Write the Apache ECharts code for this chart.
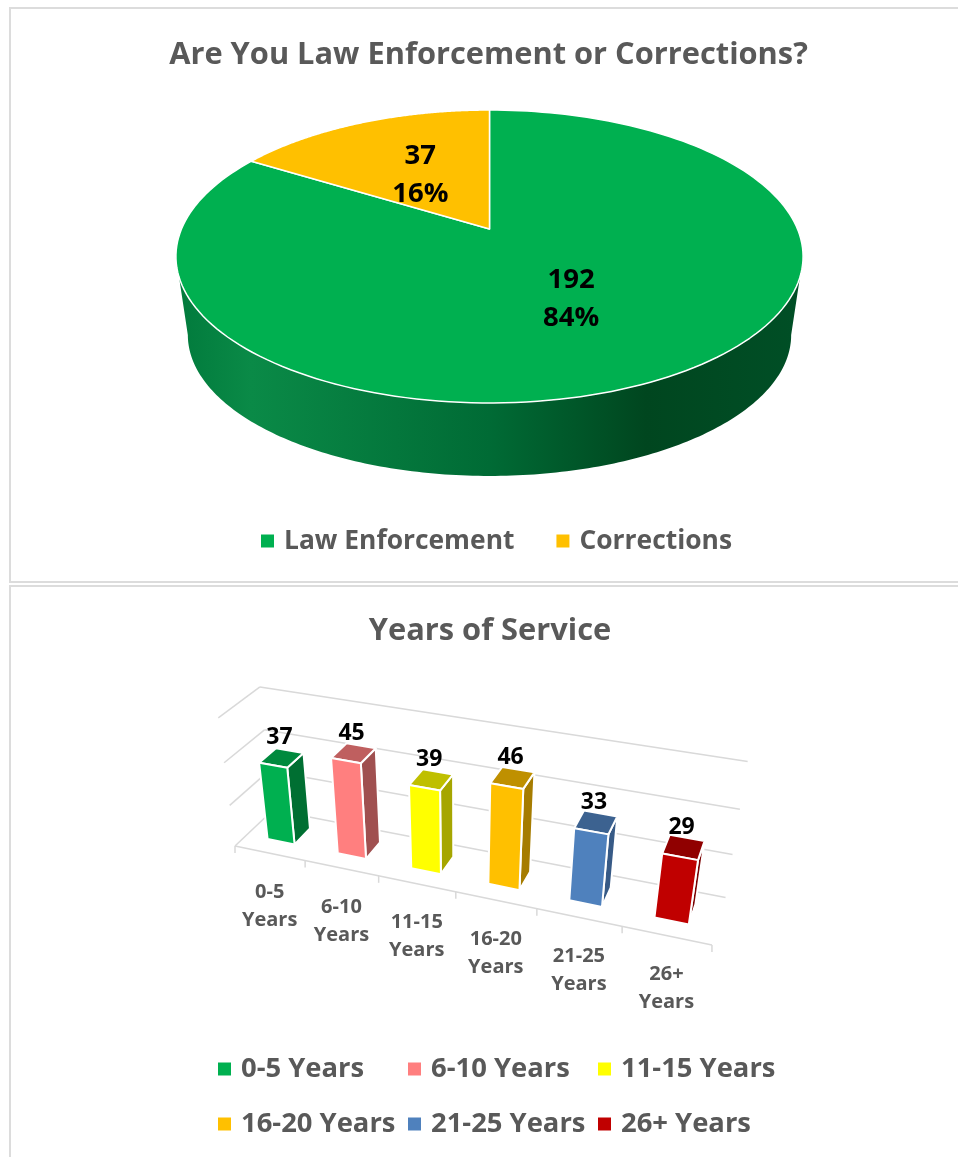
<!DOCTYPE html>
<html>
<head>
<meta charset="utf-8">
<title>Law Enforcement or Corrections / Years of Service</title>
<script src="https://cdn.jsdelivr.net/npm/echarts@6/dist/echarts.min.js"></script>
<style>
  html, body { margin: 0; padding: 0; background: #fff; }
  #chart { width: 958px; height: 1157px; }
</style>
</head>
<body>
<div id="chart"></div>
<script>
var pieNames = ['Law Enforcement', 'Corrections'];
var pieValues = [192, 37];

var serviceNames = ['0-5 Years', '6-10 Years', '11-15 Years', '16-20 Years', '21-25 Years', '26+ Years'];
var serviceValues = [37, 45, 39, 46, 33, 29];
var valueTicks = [0, 20, 40, 60];

var pieColors = ['#00B050', '#FFC000'];
var faceColors = ['#00B050', '#FF7F7F', '#FFFF00', '#FFC000', '#4F81BD', '#C00000'];
var topColors = ['#008A3E', '#BF5F5F', '#BFBF00', '#BF9000', '#3C6290', '#900000'];
var sideColors = ['#006F32', '#A05050', '#A6A600', '#A67C00', '#375A86', '#7A0000'];

var FONT = '"Open Sans", sans-serif';
var GREY = '#595959';

// tilted disc: unit circle -> screen
var DISC = { k: 0.1877, sx: 308, sy: 141.3, wallScale: 0.962, wallDrop: 79.6 };
// box of the column chart: x, y, z in 0..1 -> screen (projective)
var BOX = {
  o: [235, 846], a: [378.7, -31.4], b: [-32, -178.3], c: [53.8, 11],
  p: -0.138, q: -0.07, r: 0.058
};

function project(x, y, z) {
  var w = 1 + BOX.p * x + BOX.q * y + BOX.r * z;
  return [
    (BOX.o[0] + BOX.a[0] * x + BOX.b[0] * y + BOX.c[0] * z) / w,
    (BOX.o[1] + BOX.a[1] * x + BOX.b[1] * y + BOX.c[1] * z) / w
  ];
}

function discPoint(cs, pt, scale, drop) {
  var u = (pt[0] - cs.cx) / cs.r, v = (cs.cy - pt[1]) / cs.r;
  var w = 1 + DISC.k * v;
  return [cs.cx + scale * DISC.sx * u / w, cs.cy + drop - scale * DISC.sy * v / w];
}

function renderSlice(index) {
  return function (params, api) {
    var cs = params.coordSys, from = api.value(0), to = api.value(1), total = api.value(2);
    var steps = 180, top = [], i;
    top.push(discPoint(cs, api.coord([0, from]), 1, 0));
    for (i = 0; i <= steps; i++) {
      top.push(discPoint(cs, api.coord([1, from + (to - from) * i / steps]), 1, 0));
    }
    var children = [];

    // the wall shows only between the two widest points of the disc
    var wallFrom = Math.max(from, total * 0.28), wallTo = Math.min(to, total * 0.72);
    if (wallTo > wallFrom) {
      var upper = [], lower = [];
      for (i = 0; i <= steps; i++) {
        var pt = api.coord([1, wallFrom + (wallTo - wallFrom) * i / steps]);
        upper.push(discPoint(cs, pt, 1, 0));
        lower.unshift(discPoint(cs, pt, DISC.wallScale, DISC.wallDrop));
      }
      children.push({
        type: 'polygon',
        shape: { points: upper.concat(lower) },
        style: {
          fill: new echarts.graphic.LinearGradient(0, 0, 1, 0, [
            { offset: 0, color: '#017A3C' },
            { offset: 0.12, color: '#0A8A47' },
            { offset: 0.5, color: '#006B35' },
            { offset: 0.75, color: '#00461F' },
            { offset: 1, color: '#004F26' }
          ])
        }
      });
    }

    children.push({
      type: 'polygon',
      shape: { points: top },
      style: { fill: pieColors[index], stroke: '#fff', lineWidth: 1.5, lineJoin: 'round' }
    });

    var labelAt = discPoint(cs, api.coord([0.5, (from + to) / 2]), 1, 0);
    children.push({
      type: 'text',
      z2: 10,
      style: {
        text: pieValues[index] + '\n' + Math.round(pieValues[index] / total * 100) + '%',
        x: labelAt[0], y: labelAt[1] + 3,
        align: 'center', verticalAlign: 'middle',
        fill: '#000', font: 'bold 27.5px ' + FONT, lineHeight: 38
      }
    });
    return { type: 'group', children: children };
  };
}

function lineEl(p0, p1) {
  return {
    type: 'line',
    shape: { x1: p0[0], y1: p0[1], x2: p1[0], y2: p1[1] },
    style: { stroke: '#D9D9D9', lineWidth: 1.5 }
  };
}

function renderFrame(params, api) {
  var cs = params.coordSys;
  var y = (cs.y + cs.height - api.coord([0, api.value(1)])[1]) / cs.height;
  var children = [
    lineEl(project(0, y, 0), project(0, y, 1)),
    lineEl(project(0, y, 1), project(1, y, 1))
  ];
  if (api.value(1) === valueTicks[0]) {
    children.push(lineEl(project(0, 0, 0), project(1, 0, 0)));
    var n = serviceNames.length;
    for (var i = 0; i <= n; i++) {
      var foot = project(i / n, 0, 0);
      children.push(lineEl(foot, [foot[0], foot[1] + 7]));
    }
  }
  return { type: 'group', children: children };
}

function renderColumn(params, api) {
  var cs = params.coordSys, s = params.seriesIndex - firstColumnSeries;
  var pt = api.coord([api.value(0), api.value(1)]);
  var band = api.size([1, 0])[0] / cs.width;
  var xc = (pt[0] - cs.x) / cs.width;
  var y = (cs.y + cs.height - pt[1]) / cs.height;
  var x0 = xc - band * 0.195, x1 = xc + band * 0.195, z0 = 0.3, z1 = 0.73;
  var edge = { stroke: '#fff', lineWidth: 2, lineJoin: 'round' };

  function face(points, fill) {
    return { type: 'polygon', shape: { points: points }, style: Object.assign({ fill: fill }, edge) };
  }

  var topMid = project(xc, y, (z0 + z1) / 2);
  var foot = project(xc, 0, 0);
  return {
    type: 'group',
    children: [
      face([project(x1, 0, z0), project(x1, 0, z1), project(x1, y, z1), project(x1, y, z0)], sideColors[s]),
      face([project(x0, y, z0), project(x1, y, z0), project(x1, y, z1), project(x0, y, z1)], topColors[s]),
      face([project(x0, 0, z0), project(x1, 0, z0), project(x1, y, z0), project(x0, y, z0)], faceColors[s]),
      {
        type: 'text',
        style: {
          text: String(api.value(1)), x: topMid[0] - 2, y: topMid[1] - 20,
          align: 'center', verticalAlign: 'middle', fill: '#000', font: 'bold 23px ' + FONT
        }
      },
      {
        type: 'text',
        style: {
          text: serviceNames[s].replace(' ', '\n'), x: foot[0], y: foot[1] + 53,
          align: 'center', verticalAlign: 'middle', fill: GREY, font: 'bold 20px ' + FONT, lineHeight: 28
        }
      }
    ]
  };
}

function legendBase(extra, fontSize) {
  return Object.assign({
    orient: 'vertical',
    icon: 'rect',
    itemWidth: 13,
    itemHeight: 13,
    itemGap: 19,
    selectedMode: false,
    padding: 0,
    textStyle: { color: GREY, fontFamily: FONT, fontWeight: 'bold', fontSize: fontSize, lineHeight: 36, padding: [0, 0, 0, 5] }
  }, extra);
}

var pieTotal = pieValues.reduce(function (a, b) { return a + b; }, 0);
var series = [];
var running = 0;
pieNames.forEach(function (name, i) {
  series.push({
    type: 'custom',
    name: name,
    coordinateSystem: 'polar',
    itemStyle: { color: pieColors[i] },
    renderItem: renderSlice(i),
    data: [[running, running + pieValues[i], pieTotal]],
    z: 2 + i
  });
  running += pieValues[i];
});
series.push({
  type: 'custom',
  name: 'frame',
  coordinateSystem: 'cartesian2d',
  renderItem: renderFrame,
  data: valueTicks.map(function (t) { return [0, t]; }),
  encode: { x: 0, y: 1 },
  z: 1
});
var firstColumnSeries = series.length;
serviceNames.forEach(function (name, i) {
  series.push({
    type: 'custom',
    name: name,
    coordinateSystem: 'cartesian2d',
    itemStyle: { color: faceColors[i] },
    renderItem: renderColumn,
    data: [[i, serviceValues[i]]],
    encode: { x: 0, y: 1 },
    z: 3
  });
});

var chart = echarts.init(document.getElementById('chart'));
chart.setOption({
  animation: false,
  backgroundColor: '#fff',
  title: [
    { text: 'Are You Law Enforcement or Corrections?', left: 483.5, top: 35, textAlign: 'center',
      textStyle: { color: GREY, fontFamily: FONT, fontWeight: 'bold', fontSize: 30.8 } },
    { text: 'Years of Service', left: 485, top: 611, textAlign: 'center',
      textStyle: { color: GREY, fontFamily: FONT, fontWeight: 'bold', fontSize: 30.8 } }
  ],
  graphic: [
    { type: 'rect', z: 0, shape: { x: 10, y: 8, width: 980, height: 574 },
      style: { fill: 'none', stroke: '#DCDCDC', lineWidth: 2 } },
    { type: 'rect', z: 0, shape: { x: 10, y: 586, width: 980, height: 620 },
      style: { fill: 'none', stroke: '#DCDCDC', lineWidth: 2 } }
  ],
  polar: { center: [489.5, 229], radius: 100 },
  angleAxis: { type: 'value', min: 0, max: pieTotal, startAngle: 90, show: false },
  radiusAxis: { type: 'value', min: 0, max: 1, show: false },
  grid: { left: 235, top: 690, width: 480, height: 160 },
  xAxis: { type: 'category', data: serviceNames, show: false },
  yAxis: { type: 'value', min: valueTicks[0], max: valueTicks[valueTicks.length - 1], interval: 20, show: false },
  legend: [
    legendBase({ orient: 'horizontal', left: 261, top: 523, itemGap: 42, data: pieNames }, 26.4),
    legendBase({ left: 218, top: 1051, data: [serviceNames[0], serviceNames[3]] }, 27.4),
    legendBase({ left: 408, top: 1051, data: [serviceNames[1], serviceNames[4]] }, 27.4),
    legendBase({ left: 598, top: 1051, data: [serviceNames[2], serviceNames[5]] }, 27.4)
  ],
  series: series
});
</script>
</body>
</html>
